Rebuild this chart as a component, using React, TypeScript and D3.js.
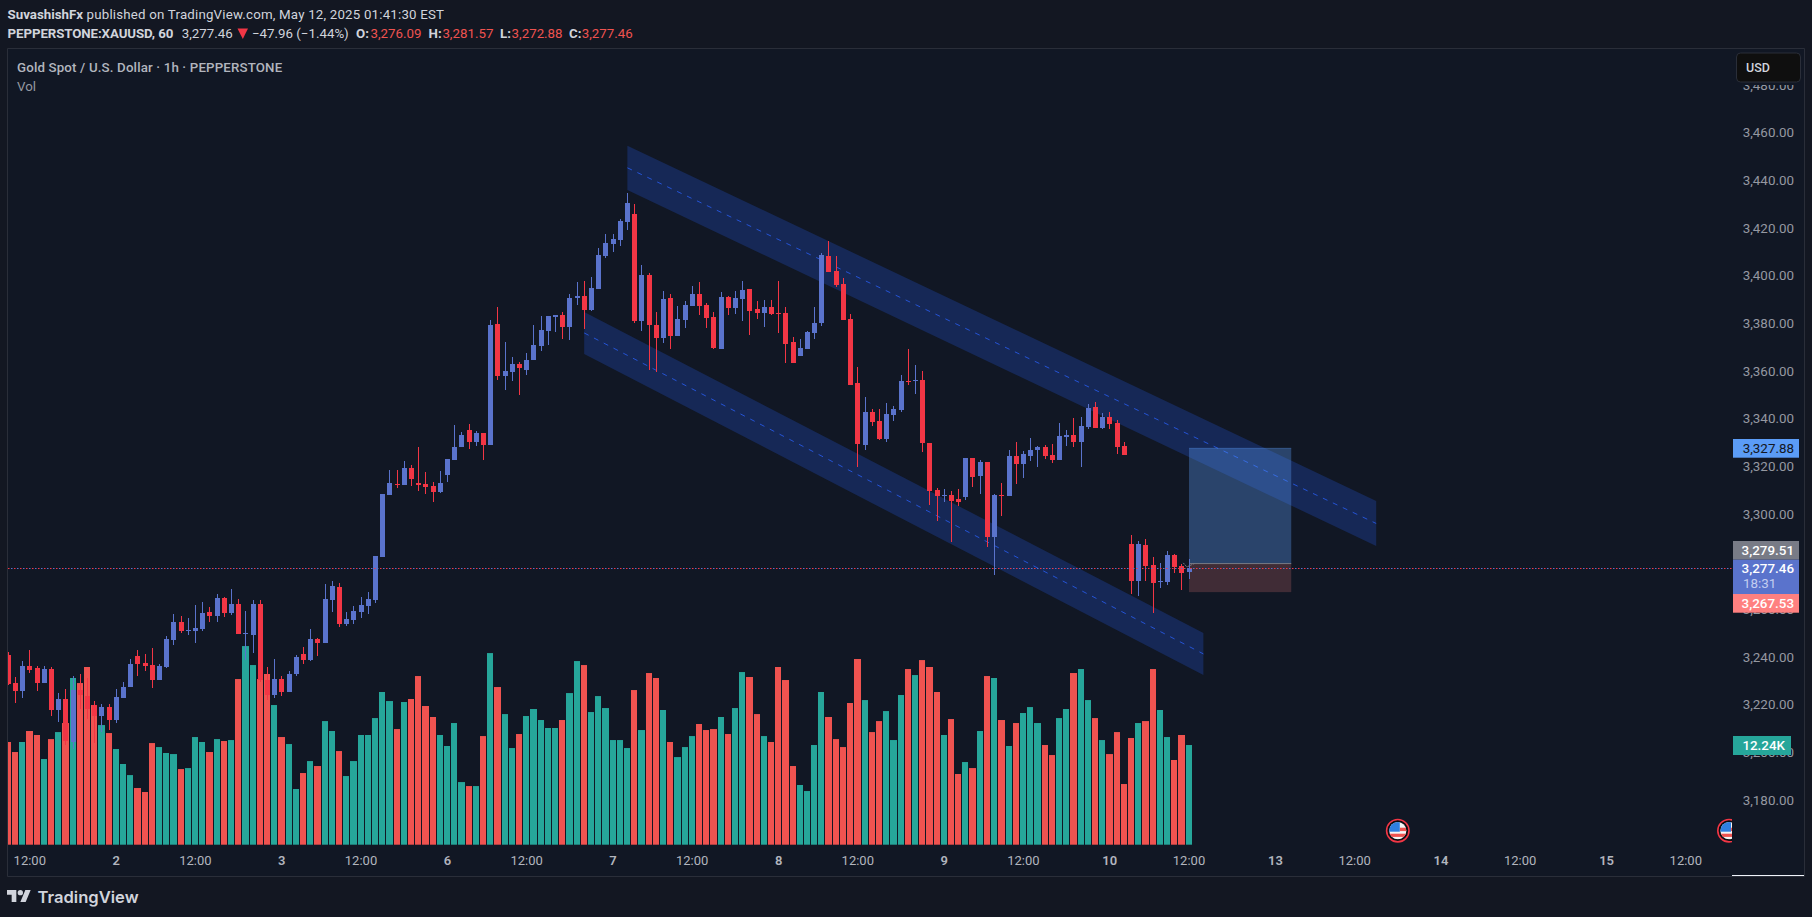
import * as d3 from 'd3'

const W = 1812
const H = 917

// hourly XAUUSD candles
const opens = [3241.2,3229.4,3226.0,3236.5,3235.7,3229.4,3235.3,3218.1,3222.7,3204.7,3226.5,3223.9,3220.2,3215.6,3219.3,3213.9,3223.1,3227.7,3240.7,3237.8,3236.9,3230.7,3236.1,3247.5,3255.0,3251.2,3251.2,3252.1,3259.2,3257.5,3265.1,3258.8,3262.5,3250.0,3249.5,3262.5,3230.7,3224.4,3231.1,3225.6,3233.2,3241.6,3239.1,3247.9,3246.2,3264.2,3269.7,3254.2,3255.9,3259.2,3261.7,3264.2,3282.3,3308.3,3312.9,3312.5,3319.6,3313.3,3312.9,3312.1,3309.6,3316.7,3323.0,3328.4,3335.6,3330.5,3334.3,3329.3,3380.1,3358.2,3359.9,3363.3,3360.7,3364.9,3370.8,3377.1,3383.0,3383.8,3378.8,3391.0,3391.8,3385.9,3394.7,3408.6,3413.6,3415.3,3422.9,3426.2,3381.3,3400.6,3379.6,3374.2,3391.0,3375.0,3381.7,3387.6,3392.6,3388.0,3383.0,3369.6,3391.4,3386.8,3390.5,3394.7,3386.4,3384.7,3387.2,3384.7,3384.7,3372.5,3366.6,3369.6,3376.3,3380.5,3408.6,3402.3,3396.8,3382.1,3355.3,3329.3,3343.1,3339.3,3331.8,3341.9,3344.0,3356.1,3356.1,3356.6,3330.1,3310.4,3307.9,3308.3,3306.6,3307.4,3323.8,3316.3,3322.1,3290.6,3308.3,3307.9,3324.7,3321.3,3324.7,3327.2,3328.4,3325.1,3323.0,3332.6,3333.5,3330.5,3336.8,3345.2,3336.4,3341.0,3338.5,3328.9,3287.7,3272.2,3287.3,3278.9,3271.8,3271.8,3283.1,3278.5,3276.09]
const highs = [3242.4,3231.9,3238.6,3243.3,3236.5,3236.5,3236.1,3225.2,3226.9,3232.3,3233.2,3231.5,3221.9,3220.6,3220.6,3226.9,3229.8,3239.5,3243.3,3241.6,3244.1,3237.4,3249.1,3258.4,3257.5,3256.7,3262.1,3263.4,3261.3,3266.8,3265.5,3268.9,3264.7,3259.6,3264.2,3264.2,3236.1,3239.5,3232.3,3234.4,3241.2,3244.5,3252.1,3248.3,3271.0,3272.2,3271.4,3259.2,3261.7,3265.5,3267.6,3282.7,3308.7,3318.8,3318.8,3322.6,3320.9,3328.4,3317.9,3313.7,3318.4,3323.4,3337.7,3334.7,3338.1,3335.2,3334.3,3381.7,3387.2,3372.5,3366.2,3364.1,3367.9,3379.6,3383.4,3383.4,3383.8,3385.1,3392.6,3397.7,3398.1,3399.8,3411.9,3417.8,3417.8,3424.1,3435.0,3430.4,3404.8,3401.5,3385.1,3393.9,3392.6,3387.6,3389.7,3396.0,3397.7,3388.9,3385.1,3393.5,3391.8,3393.9,3398.1,3394.7,3389.7,3390.1,3390.1,3398.1,3387.2,3374.6,3373.8,3377.1,3387.2,3409.9,3414.9,3408.6,3399.4,3384.3,3362.0,3349.4,3344.4,3344.4,3346.9,3345.6,3358.6,3369.6,3362.8,3360.3,3330.1,3311.2,3310.8,3310.0,3310.8,3323.8,3323.8,3323.0,3322.1,3308.7,3313.3,3327.2,3330.5,3326.8,3332.2,3328.9,3329.3,3329.7,3338.5,3335.6,3340.6,3341.0,3346.5,3347.3,3342.7,3343.1,3339.8,3330.5,3291.5,3289.0,3289.8,3282.3,3279.8,3284.8,3283.5,3279.4,3281.57]
const lows = [3228.6,3221.0,3223.1,3233.6,3226.0,3229.4,3215.6,3213.0,3203.4,3201.7,3218.5,3214.3,3204.2,3208.8,3209.7,3212.6,3223.1,3227.7,3232.3,3234.4,3227.3,3230.7,3235.7,3245.3,3250.4,3249.5,3246.2,3251.2,3255.0,3255.0,3257.1,3258.0,3250.0,3239.1,3242.0,3229.8,3222.3,3223.1,3223.9,3225.6,3232.3,3237.4,3238.6,3240.7,3246.2,3259.2,3252.9,3253.3,3254.2,3256.7,3258.4,3263.0,3282.3,3308.3,3311.2,3312.5,3312.1,3310.0,3308.7,3305.4,3309.1,3313.7,3323.0,3328.4,3327.6,3328.8,3323.0,3329.3,3356.6,3352.4,3356.1,3350.3,3358.6,3364.9,3368.7,3371.2,3376.7,3373.8,3373.3,3388.0,3377.9,3385.5,3394.7,3407.8,3410.3,3412.8,3419.5,3380.5,3377.1,3360.7,3359.9,3372.1,3369.6,3375.0,3378.4,3387.6,3383.8,3378.4,3369.6,3369.6,3383.8,3384.3,3381.3,3375.4,3382.1,3378.8,3383.8,3376.3,3363.7,3363.7,3366.6,3369.6,3373.8,3379.2,3401.9,3395.6,3381.7,3354.5,3320.1,3327.2,3337.3,3331.4,3330.5,3339.3,3343.1,3354.5,3350.7,3326.3,3304.1,3297.4,3305.4,3288.6,3303.7,3306.2,3311.6,3308.7,3286.5,3274.7,3299.5,3307.9,3312.9,3315.4,3322.6,3320.1,3323.4,3321.7,3323.0,3328.9,3328.4,3320.1,3336.0,3336.4,3336.0,3336.0,3325.5,3325.1,3266.8,3265.9,3272.2,3258.8,3269.3,3270.5,3275.6,3268.4,3272.88]
const closes = [3229.0,3226.0,3236.5,3234.9,3229.4,3235.3,3218.1,3222.7,3205.1,3226.5,3224.4,3218.5,3215.6,3219.3,3213.9,3223.5,3227.7,3237.4,3237.4,3236.5,3230.7,3236.5,3247.9,3255.0,3251.2,3251.6,3252.5,3258.8,3257.5,3265.1,3258.8,3262.5,3250.0,3250.4,3262.5,3230.7,3224.4,3231.1,3225.6,3233.2,3240.3,3239.1,3247.9,3246.2,3264.7,3270.1,3254.2,3256.3,3259.6,3262.1,3264.7,3282.7,3308.7,3313.3,3312.5,3319.6,3315.0,3312.5,3311.6,3309.6,3313.3,3323.4,3328.4,3333.5,3330.5,3334.3,3329.3,3379.6,3358.2,3360.3,3363.3,3361.6,3364.9,3371.2,3377.5,3383.4,3383.8,3378.8,3391.0,3391.8,3385.9,3395.2,3409.0,3414.0,3415.7,3423.3,3430.8,3381.3,3400.6,3379.6,3374.2,3390.5,3375.0,3382.1,3388.0,3392.6,3387.6,3382.6,3370.0,3391.4,3386.8,3391.0,3394.3,3385.5,3384.7,3387.2,3384.3,3384.3,3371.7,3363.7,3370.0,3376.7,3380.5,3409.0,3401.9,3396.4,3381.7,3354.5,3329.7,3343.1,3338.9,3331.8,3342.3,3344.4,3356.1,3355.7,3356.6,3330.1,3310.0,3307.9,3308.3,3305.8,3305.4,3323.8,3315.9,3322.1,3290.6,3308.3,3307.9,3324.7,3321.3,3325.5,3327.2,3328.4,3324.7,3323.0,3333.1,3333.5,3330.5,3337.3,3344.8,3336.4,3341.0,3338.1,3328.4,3325.1,3272.2,3287.7,3278.5,3271.4,3272.2,3283.1,3278.1,3275.6,3277.46]
// thousands of contracts
const volumes = [12.61,11.38,12.61,13.96,13.47,10.52,12.97,13.83,14.94,20.47,19.85,21.82,17.15,14.69,13.71,11.75,9.91,8.55,6.96,6.47,12.48,11.99,11.26,11.13,9.29,9.41,13.22,12.61,11.38,12.97,12.73,12.85,20.34,24.39,22.06,20.34,20.96,17.15,13.22,12.36,6.84,8.8,10.27,9.66,15.18,13.96,11.5,8.43,10.27,13.47,13.47,15.55,18.75,17.64,14.2,17.52,17.89,20.71,17.03,15.68,13.47,12.12,14.94,7.69,7.2,7.2,13.34,23.53,19.36,16.04,11.87,13.59,15.8,16.66,15.31,14.33,14.33,15.31,18.62,22.55,22.06,16.29,18.25,16.78,12.85,12.85,11.87,18.99,14.08,21.08,20.47,16.54,12.61,10.76,11.99,13.34,14.82,14.08,14.2,15.68,13.59,16.78,21.2,20.59,16.04,13.34,12.61,21.82,20.22,9.66,7.33,6.59,12.24,18.75,15.68,12.97,11.99,17.4,22.8,17.76,13.83,15.18,16.41,12.85,18.38,21.57,20.83,22.67,21.82,18.75,13.47,15.43,8.68,10.15,9.41,13.96,20.71,20.47,15.31,12.12,14.94,16.17,16.9,14.94,12.24,11.01,15.55,16.66,21.08,21.57,17.76,15.55,12.85,11.13,13.83,7.45,13.1,14.94,15.18,21.57,16.54,13.22,10.4,13.47,12.24]

const priceTicks = [3480,3460,3440,3420,3400,3380,3360,3340,3320,3300,3260,3240,3220,3200,3180]
const timeTickBars = [3,15,26,38,49,61,72,84,95,107,118,130,141,153,164,176,187,199,210,222,233]
const timeTickLabels = ['12:00','2','12:00','3','12:00','6','12:00','7','12:00','8','12:00','9','12:00','10','12:00','13','12:00','14','12:00','15','12:00']

// drawings: [bar, price] corners
const upperChannelBars = [86,190]
const upperChannelTop = [3454.9,3305.8]
const upperChannelBottom = [3436.3,3286.9]
const lowerChannelBars = [80,166]
const lowerChannelTop = [3385.1,3250.4]
const lowerChannelBottom = [3367.5,3232.8]
const positionBars = [164,178.2]
const targetPrice = 3327.88
const entryPrice = 3279.51
const stopPrice = 3267.53
const lastPrice = 3277.46
const eventBars = [193,239]
const statBars = [163.2,163.7,164.8]
const statPrices = [3279.8,3278.1,3279.6]

const x = d3.scaleLinear().domain([0,164]).range([8.2,1189])
const y = d3.scaleLinear().domain([3460,3180]).range([133.5,800.7])
const yVol = d3.scaleLinear().domain([0,25]).range([844.7,641.1])
const fmt = d3.format(',.2f')

const FONT = 'Roboto, sans-serif'
const UP = '#5a73cc'
const DOWN = '#f23645'
const VUP = '#26a69a'
const VDOWN = '#ef5350'
const CHART_L = 8
const AXIS_L = 1732

function channelPath(bars: number[], top: number[], bottom: number[]) {
  const line = d3.line()
  return line([
    [x(bars[0]), y(top[0])],
    [x(bars[1]), y(top[1])],
    [x(bars[1]), y(bottom[1])],
    [x(bars[0]), y(bottom[0])],
  ]) + 'Z'
}

function Channel({ bars, top, bottom }: { bars: number[]; top: number[]; bottom: number[] }) {
  return (
    <g>
      <path d={channelPath(bars, top, bottom)} fill="#2962ff" fillOpacity={0.23} />
      <line
        x1={x(bars[0])} x2={x(bars[1])}
        y1={y((top[0] + bottom[0]) / 2)} y2={y((top[1] + bottom[1]) / 2)}
        stroke="#2962ff" strokeOpacity={0.75} strokeWidth={1} strokeDasharray="5 6"
      />
    </g>
  )
}

function EventFlag({ bar, id }: { bar: number; id: string }) {
  const cx = x(bar)
  const cy = 830.7
  return (
    <g>
      <circle cx={cx} cy={cy} r={11.2} fill="#0b0d12" stroke="#f23645" strokeWidth={1.6} />
      <clipPath id={id}><circle cx={cx} cy={cy} r={8.6} /></clipPath>
      <g clipPath={`url(#${id})`}>
        <rect x={cx - 9} y={cy - 9} width={18} height={18} fill="#f5f5f5" />
        <rect x={cx + 2} y={cy - 3} width={7} height={3.4} fill="#ef5350" />
        <rect x={cx - 9} y={cy + 3} width={18} height={3.2} fill="#ef5350" />
        <rect x={cx - 9} y={cy - 9} width={11} height={10} fill="#2f7fe0" />
      </g>
    </g>
  )
}

function PriceTag({ top, h, fill, left = AXIS_L + 1, right = 1799, children }: any) {
  return (
    <g>
      <rect x={left} y={top} width={right - left} height={h} fill={fill} />
      {children}
    </g>
  )
}

export default function App() {
  const n = closes.length
  const barX = (i: number) => Math.floor(x(i))
  const dotted = 'M' + CHART_L + ' ' + (Math.floor(y(lastPrice)) + 0.5) + 'H' + AXIS_L
  return (
    <svg width={W} height={H} viewBox={`0 0 ${W} ${H}`} style={{ position: 'absolute', left: 0, top: 0, display: 'block', background: '#131722' }} fontFamily={FONT}>
      <defs>
        <clipPath id="pane"><rect x={CHART_L} y={49} width={AXIS_L - CHART_L} height={827} /></clipPath>
      </defs>

      <rect x={CHART_L} y={48} width={1804 - CHART_L} height={828} fill="#111724" />

      <g clipPath="url(#pane)">
        {volumes.map((v, i) => {
          const left = barX(i) - 3
          const next = i < n - 1 ? barX(i + 1) - 3 : left + 7
          return (
            <rect key={i} x={left} y={yVol(v)} width={next - left - 1} height={yVol(0) - yVol(v)}
              fill={closes[i] >= opens[i] ? VUP : VDOWN} />
          )
        })}

        <Channel bars={upperChannelBars} top={upperChannelTop} bottom={upperChannelBottom} />
        <Channel bars={lowerChannelBars} top={lowerChannelTop} bottom={lowerChannelBottom} />

        {/* long position box */}
        <rect x={x(positionBars[0])} width={x(positionBars[1]) - x(positionBars[0])} y={y(targetPrice)} height={y(entryPrice) - y(targetPrice)} fill="#5b9cf6" fillOpacity={0.34} />
        <rect x={x(positionBars[0])} width={x(positionBars[1]) - x(positionBars[0])} y={y(entryPrice)} height={y(stopPrice) - y(entryPrice)} fill="#ff8080" fillOpacity={0.2} />
        <line x1={x(positionBars[0])} x2={x(positionBars[1])} y1={y(targetPrice)} y2={y(targetPrice)} stroke="#5b9cf6" strokeOpacity={0.35} />
        <line x1={x(positionBars[0])} x2={x(positionBars[1])} y1={y(entryPrice)} y2={y(entryPrice)} stroke="#787b86" />
        <path d={d3.line()(statBars.map((b, i) => [x(b), y(statPrices[i])]) as [number, number][]) || ''} fill="none" stroke="#787b86" strokeWidth={1} strokeDasharray="2 1" />

        {closes.map((c, i) => {
          const color = c >= opens[i] ? UP : DOWN
          const cx = barX(i)
          const top = Math.round(y(Math.max(opens[i], c)))
          const bottom = Math.round(y(Math.min(opens[i], c)))
          return (
            <g key={i} fill={color}>
              <rect x={cx} y={Math.round(y(highs[i]))} width={1} height={Math.round(y(lows[i])) - Math.round(y(highs[i]))} />
              <rect x={cx - 2} y={top} width={5} height={Math.max(1, bottom - top)} />
            </g>
          )
        })}

        <path d={dotted} stroke="#f23645" strokeWidth={1.2} strokeDasharray="1.5 4.5" fill="none" />
        <path d={dotted} stroke="#5a73cc" strokeWidth={1.2} strokeDasharray="1.5 4.5" strokeDashoffset={-3} fill="none" />

        {eventBars.map((b, i) => <EventFlag key={b} bar={b} id={'flag' + i} />)}
      </g>

      {/* frame */}
      <path d={`M${CHART_L - 0.5} 876.5V48.5H1804.5V876.5H${CHART_L - 0.5}`} fill="none" stroke="#2a2e39" />
      <line x1={AXIS_L} x2={1804} y1={875.5} y2={875.5} stroke="#f0f3fa" strokeWidth={1} />

      {/* price axis */}
      {priceTicks.map(p => (
        <text key={p} x={1794} y={y(p) - 1} dy="0.36em" textAnchor="end" fontSize={13.4} fill="#9598a1">{fmt(p)}</text>
      ))}

      {/* time axis */}
      {timeTickBars.map((b, i) => {
        const isDay = timeTickLabels[i].indexOf(':') < 0
        return (
          <text key={b} x={x(b)} y={860} dy="0.36em" textAnchor="middle" fontSize={13} fontWeight={isDay ? 600 : 400} fill="#b2b5be">{timeTickLabels[i]}</text>
        )
      })}

      {/* currency button, with a halo that eats the top of the 3,480 label */}
      <rect x={1734} y={50} width={69} height={35} fill="#111724" />
      <rect x={1736.5} y={53} width={64} height={29} rx={4} fill="#0f0f0f" stroke="#2a2e39" />
      <text x={1746} y={67.2} dy="0.36em" fontSize={12.5} fontWeight={500} fill="#d1d4dc">USD</text>

      {/* price tags */}
      <PriceTag top={439} h={18.7} fill="#5b9cf6">
        <text x={1794} y={y(targetPrice)} dy="0.36em" textAnchor="end" fontSize={13.4} fill="#131722">{fmt(targetPrice)}</text>
      </PriceTag>
      <PriceTag top={541} h={18.7} fill="#787b86">
        <text x={1794} y={y(entryPrice) - 13.4} dy="0.36em" textAnchor="end" fontSize={13.4} fontWeight={500} fill="#ffffff">{fmt(entryPrice)}</text>
      </PriceTag>
      <PriceTag top={559.7} h={34.3} fill="#5a73cc">
        <text x={1794} y={y(lastPrice)} dy="0.36em" textAnchor="end" fontSize={13.4} fontWeight={500} fill="#ffffff">{fmt(lastPrice)}</text>
        <text x={1743} y={583.5} dy="0.36em" fontSize={13.4} fill="#c3cdf0">18:31</text>
      </PriceTag>
      <PriceTag top={594} h={18.7} fill="#ff8080">
        <text x={1794} y={y(stopPrice) + 10.7} dy="0.36em" textAnchor="end" fontSize={13.4} fontWeight={500} fill="#ffffff">{fmt(stopPrice)}</text>
      </PriceTag>
      <PriceTag top={736} h={19} right={1791} fill="#26a69a">
        <text x={1785} y={745.5} dy="0.36em" textAnchor="end" fontSize={13.4} fontWeight={500} fill="#ffffff">12.24K</text>
      </PriceTag>

      {/* header */}
      <text x={7.6} y={14.5} dy="0.36em" fontSize={13.3} fill="#d1d4dc"><tspan fontWeight={700}>SuvashishFx</tspan><tspan letterSpacing={0.19}> published on TradingView.com, May 12, 2025 01:41:30 EST</tspan></text>
      <text x={7.6} y={33} dy="0.36em" fontSize={13.3} fontWeight={700} letterSpacing={-0.1} fill="#d1d4dc">PEPPERSTONE:XAUUSD, 60</text>
      <text x={181.7} y={33} dy="0.36em" fontSize={13.3} fill="#d1d4dc">3,277.46</text>
      <path d="M237.5 28.5H248L242.8 39Z" fill="#f23645" />
      <text x={252} y={33} dy="0.36em" fontSize={13.3} fill="#d1d4dc">−47.96 (−1.44%)</text>
      {[
        ['O:', 356, '3,276.09', 370.5],
        ['H:', 428.6, '3,281.57', 442.4],
        ['L:', 500, '3,272.88', 511.6],
        ['C:', 569, '3,277.46', 581.7],
      ].map(([k, kx, val, vx]) => (
        <g key={k as string}>
          <text x={kx as number} y={33} dy="0.36em" fontSize={13.3} fontWeight={700} fill="#d1d4dc">{k}</text>
          <text x={vx as number} y={33} dy="0.36em" fontSize={13.3} fill="#ef5350">{val}</text>
        </g>
      ))}

      {/* legend */}
      <text x={17} y={67} dy="0.36em" fontSize={13.3} fontWeight={500} letterSpacing={0.15} fill="#b2b5be">Gold Spot / U.S. Dollar · 1h · PEPPERSTONE</text>
      <text x={17} y={86.5} dy="0.36em" fontSize={13.3} fill="#9598a1">Vol</text>

      {/* logo */}
      <g transform="translate(7,887.3) scale(0.667)" fill="#d1d4dc">
        <path d="M14 22H7V11H0V4h14v18zM28 22h-8l7.5-18h8L28 22z" />
        <circle cx={20} cy={8} r={4} />
      </g>
      <text x={37.5} y={903} fontFamily="Inter, Roboto, sans-serif" fontSize={16.6} fontWeight={600} fill="#d1d4dc">TradingView</text>
    </svg>
  )
}
